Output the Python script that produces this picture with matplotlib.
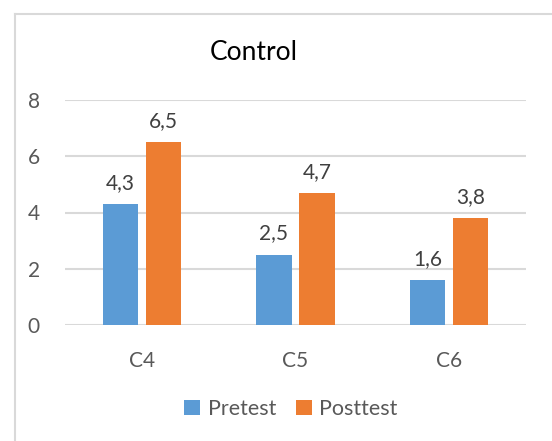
import numpy as np
import matplotlib
matplotlib.use("Agg")
import matplotlib.pyplot as plt
from matplotlib.lines import Line2D

plt.rcParams['font.family'] = ['Lato', 'DejaVu Sans']

categories = ["C4", "C5", "C6"]
pretest = [4.3, 2.5, 1.6]
posttest = [6.5, 4.7, 3.8]
labels_pre = ["4,3", "2,5", "1,6"]
labels_post = ["6,5", "4,7", "3,8"]
yticks = [0, 2, 4, 6, 8]

blue = "#5B9BD5"
orange = "#ED7D31"
grid_c = "#d9d9d9"
text_c = "#595959"

fig = plt.figure(figsize=(5.52, 4.41), dpi=100)
ax = fig.add_axes([65 / 552, 1 - 325 / 441, 461 / 552, 225 / 441])

# outer chart border: only the top and left edges are inside the picture
bx, by = 15 / 552, 1 - 14 / 441
fig.lines.append(Line2D([bx, 1.0], [by, by], transform=fig.transFigure,
                        color=grid_c, linewidth=1.5))
fig.lines.append(Line2D([bx, bx], [0, by], transform=fig.transFigure,
                        color=grid_c, linewidth=1.5))

x = np.arange(len(categories))
w = 0.228
b1 = ax.bar(x - 0.14, pretest, w, color=blue, label="Pretest", zorder=3)
b2 = ax.bar(x + 0.14, posttest, w, color=orange, label="Posttest", zorder=3)

for bars, labs in [(b1, labels_pre), (b2, labels_post)]:
    for r, t in zip(bars, labs):
        ax.annotate(t, (r.get_x() + r.get_width() / 2, r.get_height()),
                    xytext=(0, 8), textcoords="offset points",
                    ha="center", va="bottom", fontsize=15, color="#404040")

ax.set_xlim(-0.5, 2.5)
ax.set_ylim(0, 8)
ax.set_yticks(yticks)
ax.set_yticklabels([str(v) for v in yticks])
ax.set_xticks(x)
ax.set_xticklabels(categories)
ax.tick_params(axis="both", length=0, labelsize=15, colors=text_c)
ax.tick_params(axis="y", pad=18)
ax.tick_params(axis="x", pad=19)
ax.yaxis.grid(True, color=grid_c, linewidth=1.5, zorder=0)
ax.set_axisbelow(True)
for s in ax.spines.values():
    s.set_visible(False)

fig.text(254 / 552, 1 - 52 / 441, "Control", ha="center", va="center",
         fontsize=19, color="#000000")

fig.legend(handles=[b1, b2], loc="center", bbox_to_anchor=(291 / 552, 1 - 409 / 441),
           ncol=2, frameon=False, fontsize=15.5, handlelength=0.75, handleheight=0.75,
           handletextpad=0.35, columnspacing=0.9, labelcolor=text_c)

fig.savefig("out.png", dpi=100)
